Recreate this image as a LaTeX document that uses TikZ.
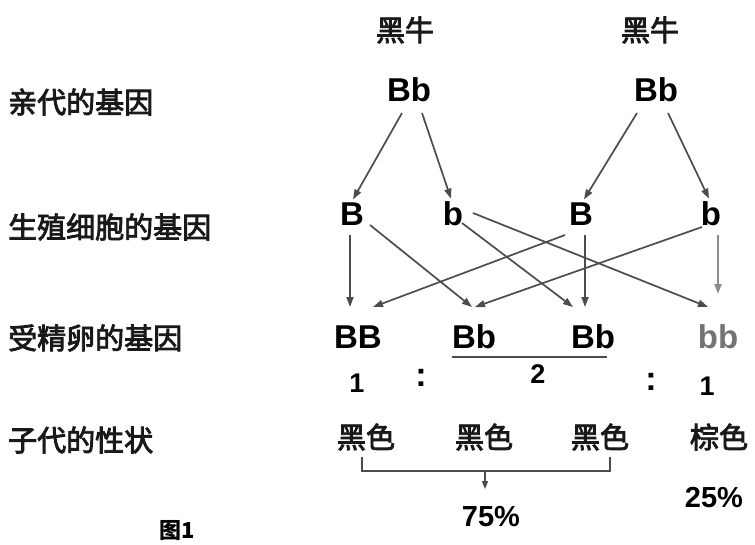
\documentclass[tikz,border=0pt]{standalone}
\usepackage{fontspec}
\setmainfont{Liberation Sans}
\newfontfamily\cjk[FakeBold=3]{Noto Sans CJK SC}
\newfontfamily\cjkb{Noto Sans CJK SC}
\usetikzlibrary{arrows.meta}
\begin{document}
\begin{tikzpicture}[x=1pt,y=-1pt,
  zh/.style={font=\cjk\fontsize{29}{30}\selectfont, inner sep=0pt, text=black!90},
  gene/.style={font=\bfseries\fontsize{33}{34}\selectfont, inner sep=0pt},
  num/.style={font=\bfseries\fontsize{27}{28}\selectfont, inner sep=0pt},
  tip/.style={-{Triangle[length=10pt,width=7pt]}},
  arr/.style={draw=black!70, line width=1.7pt, tip},
  ln/.style={draw=black!70, line width=1.6pt}]
\useasboundingbox (0,0) rectangle (755,544);
% top labels
\node[zh] (cowL) at (405,30) {黑牛};
\node[zh] (cowR) at (650,30) {黑牛};
% row labels
\node[zh, anchor=west] (r1) at (8,102) {亲代的基因};
\node[zh, anchor=west] (r2) at (8,227) {生殖细胞的基因};
\node[zh, anchor=west] (r3) at (8,338) {受精卵的基因};
\node[zh, anchor=west] (r4) at (8,440) {子代的性状};
% parents
\node[gene] (pL) at (409,90) {Bb};
\node[gene] (pR) at (656,90) {Bb};
% gametes
\node[gene] (g1) at (352,214) {B};
\node[gene] (g2) at (453,214) {b};
\node[gene] (g3) at (581,214) {B};
\node[gene] (g4) at (711,214) {b};
% zygotes
\node[gene] (z1) at (358,337) {BB};
\node[gene] (z2) at (474,337) {Bb};
\node[gene] (z3) at (593,337) {Bb};
\node[gene, text=black!55] (z4) at (718,337) {bb};
% parent -> gametes
\coordinate (pLa) at (402,113); \coordinate (pLb) at (422,113);
\coordinate (pRa) at (637,113); \coordinate (pRb) at (668,113);
\draw[arr] (pLa) -- ([xshift=1pt,yshift=3pt]g1.north);
\draw[arr] (pLb) -- ([xshift=-2pt,yshift=3pt]g2.north);
\draw[arr] (pRa) -- ([xshift=3pt,yshift=3pt]g3.north);
\draw[arr] (pRb) -- ([xshift=-2pt,yshift=3pt]g4.north);
% gametes -> zygotes
\coordinate (g1d) at (350,235); \coordinate (g1r) at (370,225);
\coordinate (g2r) at (473,213); \coordinate (g2d) at (462,223);
\coordinate (g3l) at (565,235); \coordinate (g3d) at (585,235);
\coordinate (g4l) at (702,227); \coordinate (g4d) at (718,235);
\coordinate (z1a) at (350,307); \coordinate (z1b) at (373,307);
\coordinate (z2a) at (472,307); \coordinate (z2b) at (475,307);
\coordinate (z3a) at (573,307); \coordinate (z3b) at (585,307);
\coordinate (z4a) at (708,307); \coordinate (z4b) at (718,294);
\draw[arr] (g1d) -- (z1a);
\draw[arr] (g1r) -- (z2a);
\draw[arr] (g2d) -- (z3a);
\draw[arr] (g2r) -- (z4a);
\draw[arr] (g3l) -- (z1b);
\draw[arr] (g3d) -- (z3b);
\draw[arr] (g4l) -- (z2b);
\draw[arr, draw=black!45] (g4d) -- (z4b);
% underline for heterozygotes
\coordinate (u1) at (452,357); \coordinate (u2) at (607,357);
\draw[ln] (u1) -- (u2);
% ratio
\node[num] (n1) at (357,383) {1};
\node[num, font=\bfseries\fontsize{34}{34}\selectfont] (c1) at (421,378) {:};
\node[num] (n2) at (538,374) {2};
\node[num, font=\bfseries\fontsize{34}{34}\selectfont] (c2) at (651,382) {:};
\node[num] (n3) at (707,386) {1};
% phenotypes
\node[zh] (f1) at (366,437) {黑色};
\node[zh] (f2) at (484,437) {黑色};
\node[zh] (f3) at (600,437) {黑色};
\node[zh] (f4) at (719,437) {棕色};
% bracket
\coordinate (b1) at (362,457); \coordinate (b2) at (610,457);
\coordinate (b3) at (362,471); \coordinate (b4) at (610,471);
\coordinate (bm) at (485,471); \coordinate (be) at (485,489);
\draw[ln, line width=1.2pt] (b1) -- (b3) -- (b4) -- (b2);
\draw[ln, line width=1.2pt, -{Triangle[length=8pt,width=6pt]}] (bm) -- (be);
\node[num, font=\bfseries\fontsize{29}{30}\selectfont] (p75) at (491,517) {75\%};
\node[num, font=\bfseries\fontsize{29}{30}\selectfont] (p25) at (714,498) {25\%};
\node[font=\cjkb\bfseries\fontsize{22}{22}\selectfont, inner sep=0pt] (fig) at (177,531) {图1};
\end{tikzpicture}
\end{document}
